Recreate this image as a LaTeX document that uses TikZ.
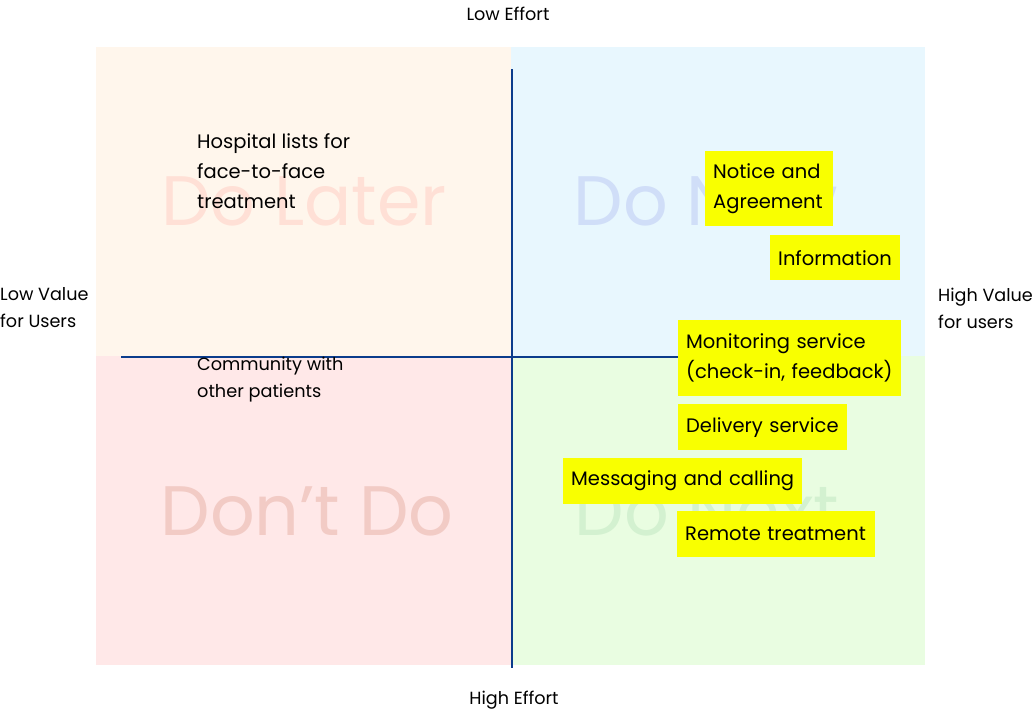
\documentclass[tikz,border=0pt]{standalone}
\usepackage{fontspec}
\setmainfont{Poppins}
\definecolor{qTL}{HTML}{FFF6EC}
\definecolor{qTR}{HTML}{E8F7FE}
\definecolor{qBL}{HTML}{FFE8E8}
\definecolor{qBR}{HTML}{E9FDE1}
\definecolor{wTL}{HTML}{FFE0D6}
\definecolor{wTR}{HTML}{D0DEF8}
\definecolor{wBL}{HTML}{F2CBC5}
\definecolor{wBR}{HTML}{D3F1D0}
\definecolor{axis}{HTML}{0B3C8C}
\definecolor{sticky}{HTML}{F9FF00}
\tikzset{
  quad/.style={draw=none, inner sep=0pt, anchor=north west},
  wm/.style={font=\fontsize{70}{76}\selectfont, inner sep=0pt},
  note/.style={fill=sticky, anchor=north west, align=left, inner xsep=8pt, inner ysep=0pt, font=\fontsize{19.5}{30}\selectfont},
  plain/.style={anchor=north west, align=left, inner sep=0pt},
  axlabel/.style={font=\fontsize{17.6}{27}\selectfont, inner sep=0pt},
  axline/.style={draw=axis, line width=2pt}
}
\begin{document}
\begin{tikzpicture}[x=1pt,y=-1pt]
\useasboundingbox (0,0) rectangle (1033,713);
% quadrants
\node[quad, fill=qTL, minimum width=415pt, minimum height=309pt] (tl) at (96,47) {};
\node[quad, fill=qTR, minimum width=414pt, minimum height=309pt] (tr) at (511,47) {};
\node[quad, fill=qBL, minimum width=415pt, minimum height=309pt] (bl) at (96,356) {};
\node[quad, fill=qBR, minimum width=414pt, minimum height=309pt] (br) at (511,356) {};
% watermarks
\node[wm, text=wTL] (wtl) at (304,201) {Do Later};
\node[wm, text=wTR] (wtr) at (706,201) {Do Now};
\node[wm, text=wBL] (wbl) at (307,511) {Don’t Do};
\node[wm, text=wBR] (wbr) at (707,511) {Do Next};
% axes
\coordinate (vtop) at (512,69);
\coordinate (vbot) at (512,668);
\coordinate (hleft) at (121,357);
\coordinate (hright) at (690,357);
\draw[axline] (vtop) -- (vbot);
\draw[axline] (hleft) -- (hright);
% axis labels
\node[axlabel] (lowe) at (508,14) {Low Effort};
\node[axlabel] (highe) at (514,700) {High Effort};
\node[axlabel, anchor=west, align=left] (lowv) at (0,308) {Low Value\\for Users};
\node[axlabel, anchor=west, align=left] (highv) at (938,308) {High Value\\for users};
% plain texts
\node[plain, font=\fontsize{19.5}{30}\selectfont] (hosp) at (197,133) {Hospital lists for\\face-to-face\\treatment};
\node[plain, font=\fontsize{17.7}{27}\selectfont] (comm) at (197,357) {Community with\\other patients};
% stickies
\node[note, text width=112pt, minimum height=75pt] (notice) at (705,151) {Notice and\\Agreement};
\node[note, text width=114pt, minimum height=45pt] (info) at (770,235) {Information};
\node[note, text width=207pt, minimum height=76pt] (monit) at (678,320) {Monitoring service\\(check-in, feedback)};
\node[note, text width=153pt, minimum height=46pt] (deliv) at (678,404) {Delivery service};
\node[note, text width=223pt, minimum height=46pt] (msg) at (563,458) {Messaging and calling};
\node[note, text width=182pt, minimum height=46pt] (remote) at (677,511) {Remote treatment};
\end{tikzpicture}
\end{document}
